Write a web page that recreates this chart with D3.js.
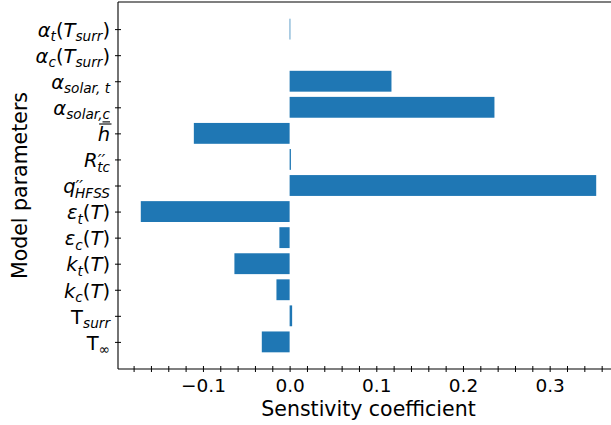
<!DOCTYPE html>
<html>
<head>
<meta charset="utf-8">
<script src="https://cdn.jsdelivr.net/npm/d3@7"></script>
<style>
  body { margin: 0; background: #fff; }
  svg { display: block; }
  text { font-family: "DejaVu Sans", sans-serif; fill: #000; }
</style>
</head>
<body>
<svg id="chart" width="611" height="425"></svg>
<script>
// Parameter labels, bottom bar first. Each label is a list of [text, style] pieces:
// "n" upright, "i" italic, "is" italic subscript, "ns" upright subscript,
// "sup" prime superscript, "sub2" subscript stacked under the superscript,
// "ibar" italic with overline, "isu" italic subscript with underline.
const parameterLabels = [
  [["T", "n"], ["∞", "ns"]],
  [["T", "n"], ["surr", "is"]],
  [["k", "i"], ["c", "is"], ["(", "n"], ["T", "i"], [")", "n"]],
  [["k", "i"], ["t", "is"], ["(", "n"], ["T", "i"], [")", "n"]],
  [["ε", "i"], ["c", "is"], ["(", "n"], ["T", "i"], [")", "n"]],
  [["ε", "i"], ["t", "is"], ["(", "n"], ["T", "i"], [")", "n"]],
  [["q", "i"], ["′′", "sup"], ["HFSS", "sub2"]],
  [["R", "i"], ["′′", "sup"], ["tc", "sub2"]],
  [["h", "ibar"]],
  [["α", "i"], ["solar, ", "is"], ["c", "isu"]],
  [["α", "i"], ["solar, t", "is"]],
  [["α", "i"], ["c", "is"], ["(", "n"], ["T", "i"], ["surr", "is"], [")", "n"]],
  [["α", "i"], ["t", "is"], ["(", "n"], ["T", "i"], ["surr", "is"], [")", "n"]]
];

// Sensitivity coefficient of each parameter, same order as the labels
const sensitivity = [
  -0.0321, 0.0029, -0.0152, -0.0637, -0.0118, -0.1717,
  0.3537, 0.0015, -0.1105, 0.2363, 0.1175, 0.0, 0.0008
];

// x ticks every 0.02, labelled every 0.1
const xTickValues = d3.range(-18, 37, 2).map(v => v / 100);
const xTickLabels = [-0.1, 0.0, 0.1, 0.2, 0.3];

const xLabel = "Senstivity coefficient";
const yLabel = "Model parameters";

const barColor = "#1f77b4";
const tickFont = 18.5;
const paramFont = 19.5;
const labelFont = 20.5;

const svg = d3.select("#chart");

const plot = { left: 118, right: 619, top: 2, bottom: 369 };

const x = d3.scaleLinear().domain([-0.198, 0.380]).range([plot.left, plot.right]);
const y = d3.scaleLinear().domain([-1.04, parameterLabels.length - 1 + 1.04]).range([plot.bottom, plot.top]);
const barHalf = 0.4;

// bars
svg.append("g")
  .selectAll("rect")
  .data(sensitivity)
  .join("rect")
  .attr("x", d => x(Math.min(0, d)))
  .attr("width", d => Math.abs(x(d) - x(0)))
  .attr("y", (d, i) => y(i + barHalf))
  .attr("height", (d, i) => y(i - barHalf) - y(i + barHalf))
  .attr("fill", barColor);

// x axis: ticks crossing the spine
const fmt = v => {
  const labelled = xTickLabels.some(t => Math.abs(t - v) < 1e-9);
  if (!labelled) return "";
  return (v < 0 ? "\u2212" : "") + Math.abs(v).toFixed(1);
};
const xAxis = svg.append("g")
  .attr("transform", `translate(0,${plot.bottom})`)
  .call(d3.axisBottom(x).tickValues(xTickValues).tickFormat(fmt).tickSizeInner(3).tickSizeOuter(0));
xAxis.select(".domain").remove();
xAxis.selectAll(".tick line").attr("y1", -3).attr("y2", 3).attr("stroke", "#000").attr("stroke-width", 1);
xAxis.selectAll(".tick text")
  .attr("y", 23.3).attr("dy", null)
  .style("font-family", "DejaVu Sans")
  .style("font-size", tickFont + "px")
  .attr("fill", "#000");

// y axis ticks
const yAxis = svg.append("g")
  .attr("transform", `translate(${plot.left},0)`)
  .call(d3.axisLeft(y).tickValues(d3.range(parameterLabels.length)).tickFormat("").tickSizeInner(3).tickSizeOuter(0));
yAxis.select(".domain").remove();
yAxis.selectAll(".tick line").attr("x1", -3).attr("x2", 3).attr("stroke", "#000").attr("stroke-width", 1);

// y tick labels: one text element per label, pieces laid out as tspans
const subScale = 0.7;
const labelRight = 110;
parameterLabels.forEach((pieces, i) => {
  const g = svg.append("g");
  const text = g.append("text");
  let cx = 0, supStart = 0, supEnd = 0;
  pieces.forEach(([txt, style]) => {
    const t = text.append("tspan").text(txt);
    let size = paramFont, dy = 0, italic = false;
    if (style === "i" || style === "ibar") italic = true;
    if (style === "is" || style === "isu" || style === "sub2") { italic = true; size = paramFont * subScale; dy = 0.22 * paramFont; }
    if (style === "ns") { size = paramFont * subScale; dy = 0.22 * paramFont; }
    if (style === "sup") { italic = true; size = paramFont * 0.85; dy = -0.05 * paramFont; }
    let startX = cx;
    if (style === "sub2") startX = supStart + 0.5;
    t.attr("x", startX).attr("y", dy)
      .style("font-size", size + "px")
      .style("font-style", italic ? "italic" : "normal");
    const w = t.node().getComputedTextLength();
    if (style === "sup") { supStart = cx - 1; supEnd = cx + w; cx = cx + w; }
    else if (style === "sub2") { cx = Math.max(supEnd, startX + w); }
    else cx = startX + w;
    if (style === "ibar") {
      g.append("line").attr("x1", startX + 1.5).attr("x2", startX + w + 1.5)
        .attr("y1", -0.88 * paramFont).attr("y2", -0.88 * paramFont)
        .attr("stroke", "#000").attr("stroke-width", 1.1);
    }
    if (style === "isu") {
      g.append("line").attr("x1", startX).attr("x2", startX + w)
        .attr("y1", dy + 2.5).attr("y2", dy + 2.5)
        .attr("stroke", "#000").attr("stroke-width", 1.1);
    }
  });
  g.attr("transform", `translate(${labelRight - cx},${y(i) + 0.4 * paramFont})`);
});

// spines (the right one lies beyond the visible area)
const spines = svg.append("g").attr("stroke", "#000").attr("stroke-width", 1.1).attr("fill", "none");
spines.append("line").attr("x1", plot.left).attr("x2", plot.left).attr("y1", plot.top).attr("y2", plot.bottom);
spines.append("line").attr("x1", plot.left).attr("x2", plot.right).attr("y1", plot.bottom).attr("y2", plot.bottom);
spines.append("line").attr("x1", plot.left).attr("x2", plot.right).attr("y1", plot.top).attr("y2", plot.top);

// axis titles
svg.append("text")
  .attr("x", (plot.left + plot.right) / 2).attr("y", 416)
  .attr("text-anchor", "middle")
  .style("font-size", labelFont + "px")
  .text(xLabel);

svg.append("text")
  .attr("transform", `translate(26.7,${(plot.top + plot.bottom) / 2}) rotate(-90)`)
  .attr("text-anchor", "middle")
  .style("font-size", labelFont + "px")
  .text(yLabel);
</script>
</body>
</html>
